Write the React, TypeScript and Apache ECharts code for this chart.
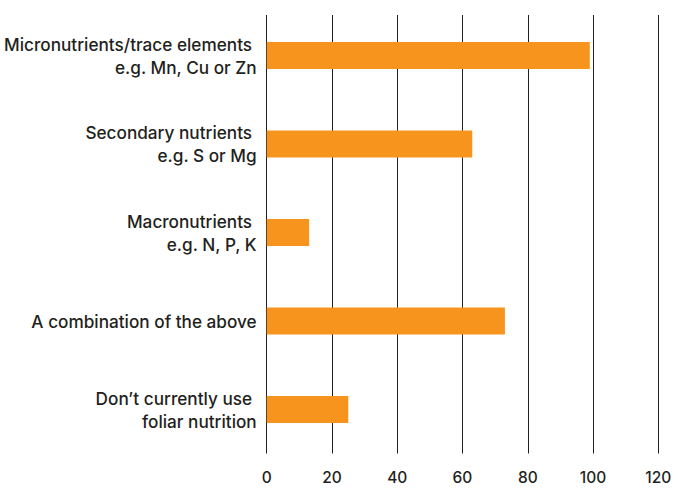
import React, { useEffect, useRef } from "react";
import * as echarts from "echarts";

// Survey answers, top to bottom
const categories: string[] = [
  "Micronutrients/trace elements \ne.g. Mn, Cu or Zn",
  "Secondary nutrients \ne.g. S or Mg",
  "Macronutrients \ne.g. N, P, K",
  "A combination of the above",
  "Don\u2019t currently use \nfoliar nutrition",
];
const responses: number[] = [99, 63, 13, 73, 25];
const axisMin = 0;
const axisMax = 120;
const axisStep = 20;

const FONT = "Inter, 'Liberation Sans', Arial, sans-serif";

export default function App() {
  const ref = useRef<HTMLDivElement>(null);

  useEffect(() => {
    if (!ref.current) return;
    const chart = echarts.init(ref.current, null, { renderer: "svg" });
    chart.setOption({
      animation: false,
      backgroundColor: "#ffffff",
      grid: [
        { left: 266.7, right: 19.7, top: 11.25, height: 442.5, containLabel: false },
        { left: 266.7, right: 19.7, top: 15, height: 438.5, containLabel: false },
      ],
      xAxis: [
        {
          type: "value",
          gridIndex: 0,
          min: axisMin,
          max: axisMax,
          interval: axisStep,
          axisLine: { show: false },
          axisTick: { show: false },
          axisLabel: { show: false },
          splitLine: { show: false },
        },
        {
          type: "value",
          gridIndex: 1,
          min: axisMin,
          max: axisMax,
          interval: axisStep,
          axisLine: { show: false },
          axisTick: { show: false },
          axisLabel: {
            show: true,
            margin: 16,
            fontFamily: FONT,
            fontSize: 15.5,
            fontWeight: 500,
            color: "#231f20",
          },
          splitLine: { show: true, lineStyle: { color: "#231f20", width: 1 } },
        },
      ],
      yAxis: [
        {
          type: "category",
          gridIndex: 0,
          inverse: true,
          data: categories,
          axisLine: { show: false },
          axisTick: { show: false },
          axisLabel: {
            margin: 10,
            align: "right",
            fontFamily: FONT,
            fontSize: 17.2,
            fontWeight: 500,
            lineHeight: 23,
            color: "#231f20",
          },
          splitLine: { show: false },
        },
        {
          type: "category",
          gridIndex: 1,
          data: categories,
          show: false,
        },
      ],
      series: [
        {
          type: "bar",
          xAxisIndex: 0,
          yAxisIndex: 0,
          data: responses,
          barWidth: 27,
          itemStyle: { color: "#f7941d" },
        },
      ],
    });
    return () => chart.dispose();
  }, []);

  return <div ref={ref} style={{ width: 678, height: 488, position: "absolute", left: 0, top: 0 }} />;
}
